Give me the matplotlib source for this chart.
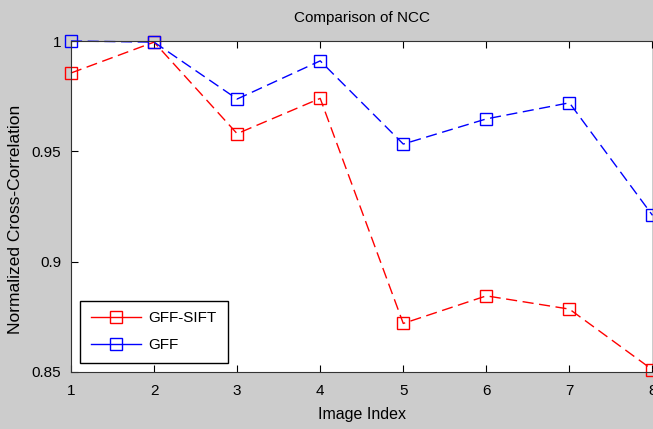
import matplotlib
matplotlib.use('Agg')
import matplotlib.pyplot as plt
from matplotlib.lines import Line2D

# values
image_index = [1, 2, 3, 4, 5, 6, 7, 8]
gff_sift = [0.9855, 0.9995, 0.958, 0.974, 0.872, 0.8845, 0.8785, 0.851]
gff = [1.0, 0.9995, 0.9737, 0.991, 0.9533, 0.9647, 0.972, 0.921]
y_ticks = [0.85, 0.9, 0.95, 1.0]
y_tick_labels = ['0.85', '0.9', '0.95', '1']

plt.rcParams['font.family'] = ['Liberation Sans', 'DejaVu Sans']

fig = plt.figure(figsize=(6.53, 4.29), dpi=100, facecolor='#cccccc')
ax = fig.add_axes([0.1087, 0.1329, 0.8905, 0.7715])
ax.set_facecolor('white')

dash = (0, (8, 4))
ax.plot(image_index, gff_sift, color='red', linestyle=dash, linewidth=1,
        marker='s', markersize=8, markerfacecolor='none', markeredgecolor='red', clip_on=False)
ax.plot(image_index, gff, color='blue', linestyle=dash, linewidth=1,
        marker='s', markersize=8, markerfacecolor='none', markeredgecolor='blue', clip_on=False)

ax.set_xlim(1, 8)
ax.set_ylim(0.85, 1.0)
ax.set_xticks(image_index)
ax.set_yticks(y_ticks)
ax.set_yticklabels(y_tick_labels)
ax.tick_params(direction='in', top=True, right=False, length=5, labelsize=11)
ax.tick_params(axis='x', pad=9)
ax.tick_params(axis='y', pad=7)
for s in ['left', 'bottom', 'top']:
    ax.spines[s].set_color('#333333')
ax.spines['right'].set_visible(False)

ax.set_title('Comparison of NCC', fontsize=11, pad=14)
ax.set_xlabel('Image Index', fontsize=11.5, labelpad=6)
ax.set_ylabel('Normalized Cross-Correlation', fontsize=12.5)
ax.yaxis.set_label_coords(-0.083, 0.46)

handles = [
    Line2D([], [], color='red', marker='s', markersize=8, markerfacecolor='none', linewidth=1),
    Line2D([], [], color='blue', marker='s', markersize=8, markerfacecolor='none', linewidth=1),
]
leg = ax.legend(handles, ['GFF-SIFT', 'GFF'], loc='lower left', bbox_to_anchor=(0.0155, 0.027),
                borderaxespad=0, fontsize=11, fancybox=False, framealpha=1, edgecolor='black',
                handlelength=3.3, borderpad=0.7, labelspacing=0.85, handletextpad=0.5)
leg.get_frame().set_linewidth(1)

fig.savefig('out.png', dpi=100, facecolor=fig.get_facecolor())
